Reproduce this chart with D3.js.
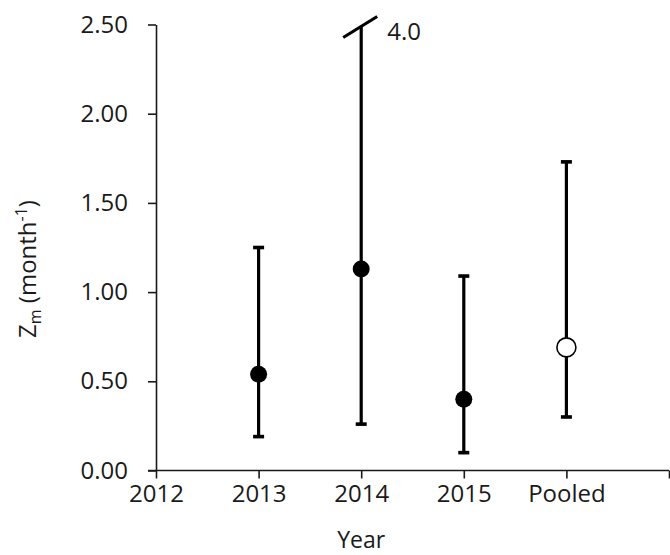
<!DOCTYPE html>
<html>
<head>
<meta charset="utf-8">
<script src="https://cdn.jsdelivr.net/npm/d3@7"></script>
<style>
  body { margin: 0; background: #fff; }
  text { font-family: "Open Sans", sans-serif; fill: #1a1a1a; }
</style>
</head>
<body>
<script>
// groups on the x axis (Pooled sits at the 2016 slot)
const groups = ["2013", "2014", "2015", "Pooled"];
const groupX = [2013, 2014, 2015, 2016];
const estimates = [0.54, 1.13, 0.40, 0.69];
const lowers = [0.19, 0.26, 0.10, 0.30];
const uppers = [1.25, 4.0, 1.09, 1.73];
const pooledFlags = [false, false, false, true];

const xTickValues = [2012, 2013, 2014, 2015, 2016, 2017];
const xTickLabels = ["2012", "2013", "2014", "2015", "Pooled", ""];
const yTickValues = [0, 0.5, 1.0, 1.5, 2.0, 2.5];

const width = 670;
const height = 555;
const margin = { top: 24.5, right: 1, bottom: 84.5, left: 156 };
const yMax = 2.5;

const svg = d3.select("body").append("svg")
  .attr("width", width)
  .attr("height", height);

const x = d3.scaleLinear()
  .domain([2012, 2017])
  .range([margin.left, width - margin.right]);

const y = d3.scaleLinear()
  .domain([0, yMax])
  .range([height - margin.bottom, margin.top]);

const xAxis = d3.axisBottom(x)
  .tickValues(xTickValues)
  .tickFormat((d, i) => xTickLabels[i])
  .tickSize(8)
  .tickPadding(6)
  .tickSizeOuter(0);

const yAxis = d3.axisLeft(y)
  .tickValues(yTickValues)
  .tickFormat(d3.format(".2f"))
  .tickSize(8)
  .tickPadding(20)
  .tickSizeOuter(0);

const gx = svg.append("g")
  .attr("transform", `translate(0,${y(0)})`)
  .call(xAxis);

const gy = svg.append("g")
  .attr("transform", `translate(${x(2012)},0)`)
  .call(yAxis);

[gx, gy].forEach((g) => {
  g.select(".domain").attr("stroke", "#1a1a1a").attr("stroke-width", 1.6);
  g.selectAll(".tick line").attr("stroke", "#1a1a1a").attr("stroke-width", 1.6);
  g.selectAll(".tick text")
    .style("font-family", "'Open Sans', sans-serif")
    .style("font-size", "24px")
    .attr("fill", "#1a1a1a");
});
// stretch x axis line to the y axis origin
gx.select(".domain").attr("d", `M${x(2012) - 8},0H${x(2017)}`);

// axis titles
svg.append("text")
  .attr("x", x(2014))
  .attr("y", 548)
  .attr("text-anchor", "middle")
  .style("font-size", "23px")
  .text("Year");

const ylab = svg.append("text")
  .attr("transform", `translate(36,${269}) rotate(-90)`)
  .attr("text-anchor", "middle")
  .style("font-size", "24px");
ylab.append("tspan").text("Z");
ylab.append("tspan").attr("dy", 5).style("font-size", "16px").text("m");
ylab.append("tspan").attr("dy", -5).text(" (month");
ylab.append("tspan").attr("dy", -9).style("font-size", "16px").text("-1");
ylab.append("tspan").attr("dy", 9).text(")");

// error bars
const data = groups.map((g, i) => ({
  name: g, xv: groupX[i], est: estimates[i], lo: lowers[i], hi: uppers[i], pooled: pooledFlags[i]
}));

const bars = svg.append("g");
bars.selectAll("line.err")
  .data(data)
  .join("line")
  .attr("class", "err")
  .attr("x1", (d) => x(d.xv))
  .attr("x2", (d) => x(d.xv))
  .attr("y1", (d) => y(d.lo))
  .attr("y2", (d) => y(Math.min(d.hi, yMax)) + (d.hi > yMax ? 2 : 0))
  .attr("stroke", "#000")
  .attr("stroke-width", 3.2);

// caps (lower always, upper only when inside the axis)
const caps = [];
data.forEach((d) => {
  caps.push({ xv: d.xv, v: d.lo });
  if (d.hi <= yMax) caps.push({ xv: d.xv, v: d.hi });
});
bars.selectAll("rect.cap")
  .data(caps)
  .join("rect")
  .attr("class", "cap")
  .attr("x", (d) => x(d.xv) - 5.5)
  .attr("y", (d) => y(d.v) - 1.8)
  .attr("width", 11)
  .attr("height", 3.6)
  .attr("fill", "#000");

// break mark for values beyond the axis
const cut = data.filter((d) => d.hi > yMax);
bars.selectAll("line.brk")
  .data(cut)
  .join("line")
  .attr("class", "brk")
  .attr("x1", (d) => x(d.xv) - 18)
  .attr("y1", (d) => y(yMax) + 13)
  .attr("x2", (d) => x(d.xv) + 16)
  .attr("y2", (d) => y(yMax) - 8)
  .attr("stroke", "#000")
  .attr("stroke-width", 3.2);
bars.selectAll("text.brk")
  .data(cut)
  .join("text")
  .attr("class", "brk")
  .attr("x", (d) => x(d.xv) + 26)
  .attr("y", (d) => y(yMax) + 15)
  .style("font-size", "24px")
  .text((d) => d.hi.toFixed(1));

// points
bars.selectAll("circle")
  .data(data)
  .join("circle")
  .attr("cx", (d) => x(d.xv))
  .attr("cy", (d) => y(d.est))
  .attr("r", (d) => (d.pooled ? 9.5 : 8.5))
  .attr("fill", (d) => (d.pooled ? "#fff" : "#000"))
  .attr("stroke", "#000")
  .attr("stroke-width", (d) => (d.pooled ? 1.6 : 0));
</script>
</body>
</html>
